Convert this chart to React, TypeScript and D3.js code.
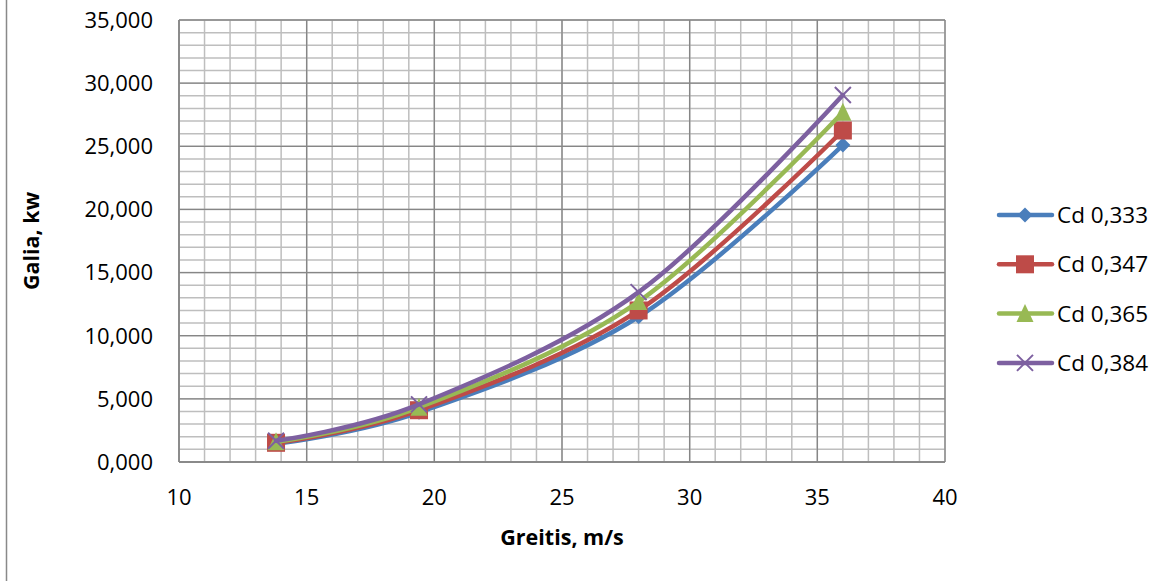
import React from "react";
import * as d3 from "d3";

const speeds = [13.8, 19.4, 28, 36];
const cd333 = [1450, 3930, 11500, 25100];
const cd347 = [1520, 4100, 12000, 26250];
const cd365 = [1600, 4330, 12700, 27700];
const cd384 = [1680, 4560, 13450, 29060];
const seriesNames = ["Cd 0,333", "Cd 0,347", "Cd 0,365", "Cd 0,384"];
const seriesValues = [cd333, cd347, cd365, cd384];
const seriesColors = ["#4A7EBB", "#BE4B48", "#98B954", "#7D60A0"];
const markers = ["diamond", "square", "triangle", "x"];
const xTicks = [10, 15, 20, 25, 30, 35, 40];
const yTicks = [0, 5000, 10000, 15000, 20000, 25000, 30000, 35000];

const W = 1166, H = 581;
const L = 179, R = 945, T = 20, B = 462;
const FONT = "'Open Sans', 'Liberation Sans', sans-serif";

function Marker({ type, x, y, color }: { type: string; x: number; y: number; color: string }) {
  if (type === "diamond") {
    const s = 7.5;
    return <path d={`M${x},${y - s}L${x + s},${y}L${x},${y + s}L${x - s},${y}Z`} fill={color} />;
  }
  if (type === "square") {
    const s = 9;
    return <rect x={x - s} y={y - s} width={2 * s} height={2 * s} fill={color} />;
  }
  if (type === "triangle") {
    const s = 8.5;
    return <path d={`M${x},${y - s - 1}L${x + s},${y + s}L${x - s},${y + s}Z`} fill={color} />;
  }
  const s = 8;
  return (
    <path d={`M${x - s},${y - s}L${x + s},${y + s}M${x + s},${y - s}L${x - s},${y + s}`} stroke={color} strokeWidth={2} fill="none" />
  );
}

export default function App() {
  const x = d3.scaleLinear().domain([10, 40]).range([L, R]);
  const y = d3.scaleLinear().domain([0, 35000]).range([B, T]);
  const minorX = d3.range(10, 41, 1);
  const minorY = d3.range(0, 35001, 1000);
  const yLabel = (v: number) => (v === 0 ? "0,000" : d3.format(",.0f")(v));
  const line = d3
    .line<number>()
    .x((_, i) => x(speeds[i]))
    .y((d) => y(d))
    .curve(d3.curveCardinal.tension(0));

  return (
    <svg width={W} height={H} style={{ position: "absolute", left: 0, top: 0, background: "#fff" }}>
      <rect x={0} y={0} width={W} height={H} fill="#fff" />
      <line x1={6.5} y1={0} x2={6.5} y2={H} stroke="#898989" strokeWidth={1.5} />
      {minorX.map((v) => (
        <line key={"mx" + v} x1={x(v)} x2={x(v)} y1={T} y2={B} stroke="#BEBEBE" strokeWidth={1.5} />
      ))}
      {minorY.map((v) => (
        <line key={"my" + v} x1={L} x2={R} y1={y(v)} y2={y(v)} stroke="#BEBEBE" strokeWidth={1.5} />
      ))}
      {xTicks.map((v) => (
        <line key={"Mx" + v} x1={x(v)} x2={x(v)} y1={T} y2={B} stroke="#868686" strokeWidth={1.3} />
      ))}
      {yTicks.map((v) => (
        <line key={"My" + v} x1={L} x2={R} y1={y(v)} y2={y(v)} stroke="#868686" strokeWidth={1.3} />
      ))}
      <line x1={L} x2={L} y1={T} y2={B} stroke="#868686" strokeWidth={1.5} />
      <line x1={L} x2={R} y1={B} y2={B} stroke="#868686" strokeWidth={1.5} />
      {yTicks.map((v) => (
        <text key={"yl" + v} x={153} y={y(v)} dy="0.36em" textAnchor="end" fontFamily={FONT} fontSize={22} fill="#000">
          {yLabel(v)}
        </text>
      ))}
      {xTicks.map((v) => (
        <text key={"xl" + v} x={x(v)} y={497} dy="0.36em" textAnchor="middle" fontFamily={FONT} fontSize={22} fill="#000">
          {v}
        </text>
      ))}
      <text x={(L + R) / 2} y={537} dy="0.36em" textAnchor="middle" fontFamily={FONT} fontWeight="bold" fontSize={21.5}>
        Greitis, m/s
      </text>
      <text transform={`translate(31,241) rotate(-90)`} dy="0.36em" textAnchor="middle" fontFamily={FONT} fontWeight="bold" fontSize={21.5}>
        Galia, kw
      </text>
      {seriesValues.map((vals, si) => (
        <g key={"s" + si}>
          <path d={line(vals) || ""} fill="none" stroke={seriesColors[si]} strokeWidth={4.5} strokeLinecap="round" />
          {vals.map((v, i) => (
            <Marker key={i} type={markers[si]} x={x(speeds[i])} y={y(v)} color={seriesColors[si]} />
          ))}
        </g>
      ))}
      {seriesNames.map((name, si) => {
        const ly = 215 + si * 49.3;
        return (
          <g key={"lg" + si}>
            <line x1={999} x2={1052} y1={ly} y2={ly} stroke={seriesColors[si]} strokeWidth={4.5} strokeLinecap="round" />
            <Marker type={markers[si]} x={1025} y={ly} color={seriesColors[si]} />
            <text x={1057} y={ly} dy="0.36em" fontFamily={FONT} fontSize={22.5} fill="#000">
              {name}
            </text>
          </g>
        );
      })}
    </svg>
  );
}
